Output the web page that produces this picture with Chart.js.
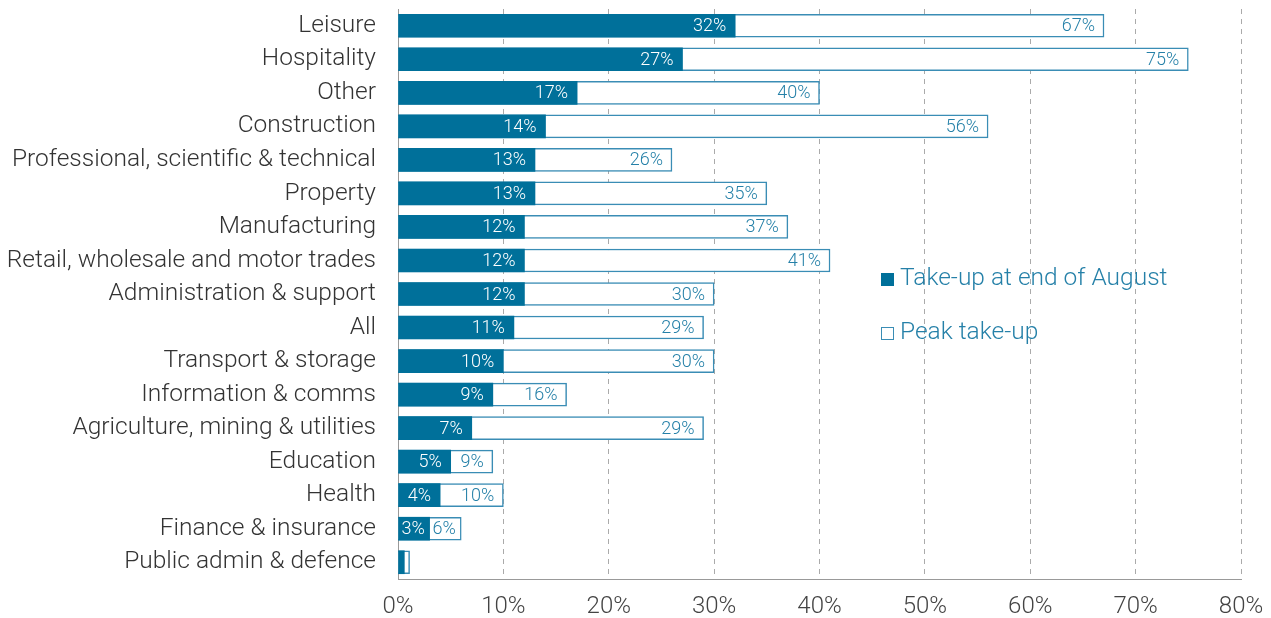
<!DOCTYPE html>
<html>
<head>
<meta charset="utf-8">
<script src="https://cdn.jsdelivr.net/npm/chart.js@4.4.0/dist/chart.umd.min.js"></script>
<style>
  body { margin: 0; background: #fff; }
  .wrap { position: relative; width: 1271px; height: 618px; }
  .key { position: absolute; left: 881px; font: 300 24.5px Roboto, sans-serif; color: #2580a8; white-space: nowrap; line-height: 28px; }
  .key i { display: inline-block; width: 13px; height: 13px; margin-right: 6px; box-sizing: border-box; vertical-align: -1px; }
  .key .solid { background: #00709a; }
  .key .hollow { border: 1.5px solid #3a8db5; background: #fff; }
</style>
</head>
<body>
<div class="wrap">
  <canvas id="takeUp" width="1271" height="618"></canvas>
  <div class="key" style="top:263px"><i class="solid"></i>Take-up at end of August</div>
  <div class="key" style="top:317px"><i class="hollow"></i>Peak take-up</div>
</div>
<script>
const sectors = [
  'Leisure', 'Hospitality', 'Other', 'Construction',
  'Professional, scientific & technical', 'Property', 'Manufacturing',
  'Retail, wholesale and motor trades', 'Administration & support', 'All',
  'Transport & storage', 'Information & comms', 'Agriculture, mining & utilities',
  'Education', 'Health', 'Finance & insurance', 'Public admin & defence'
];
const takeUpAugust = [32, 27, 17, 14, 13, 13, 12, 12, 12, 11, 10, 9, 7, 5, 4, 3, 0.6];
const peakTakeUp   = [67, 75, 40, 56, 26, 35, 37, 41, 30, 29, 30, 16, 29, 9, 10, 6, 1.1];
const xMax = 80;
const xStep = 10;

const FILL = '#00709a';
const EDGE = '#3a8db5';
const TEAL_TEXT = '#2580a8';

// value labels drawn inside the right end of each bar
const barLabels = {
  id: 'barLabels',
  afterDatasetsDraw(chart) {
    const ctx = chart.ctx;
    const filled = chart.getDatasetMeta(0).data;
    ctx.save();
    ctx.font = '300 18px Roboto, sans-serif';
    ctx.textAlign = 'right';
    ctx.textBaseline = 'middle';
    chart.data.datasets.forEach((ds, di) => {
      const meta = chart.getDatasetMeta(di);
      meta.data.forEach((bar, i) => {
        const v = ds.data[i];
        if (v < 2) return;
        const txt = Math.round(v) + '%';
        const w = ctx.measureText(txt).width;
        // keep short labels clear of the bar start (or the filled bar)
        const start = di === 0 ? bar.base : filled[i].x;
        const x = Math.max(bar.x - 9, start + w + 3);
        ctx.fillStyle = di === 0 ? '#fff' : TEAL_TEXT;
        ctx.fillText(txt, x, bar.y + 1);
      });
    });
    ctx.restore();
  }
};

new Chart(document.getElementById('takeUp'), {
  type: 'bar',
  data: {
    labels: sectors,
    datasets: [
      {
        label: 'Take-up at end of August',
        data: takeUpAugust,
        backgroundColor: FILL,
        borderWidth: 0,
        barThickness: 23,
        grouped: false,
        order: 1
      },
      {
        label: 'Peak take-up',
        data: peakTakeUp,
        backgroundColor: '#fff',
        borderColor: EDGE,
        borderWidth: 1.5,
        barThickness: 23,
        grouped: false,
        order: 2
      }
    ]
  },
  options: {
    indexAxis: 'y',
    responsive: false,
    animation: false,
    layout: { padding: { top: 9, right: 30, left: 0, bottom: 0 } },
    plugins: { legend: { display: false }, tooltip: { enabled: false } },
    scales: {
      x: {
        min: 0,
        max: xMax,
        afterFit: s => { s.height = 39; s.paddingLeft = 0; s.paddingRight = 0; },
        ticks: {
          stepSize: xStep,
          padding: 14,
          color: '#444',
          font: { family: 'Roboto', size: 24, weight: 300 },
          callback: v => v + '%'
        },
        grid: {
          drawTicks: false,
          color: c => (c.tick && c.tick.value === 0) ? 'rgba(0,0,0,0)' : '#aaa',
          lineWidth: 1
        },
        border: { display: true, color: '#999', width: 1, dash: [5, 5] }
      },
      y: {
        afterFit: s => { s.width = 398; s.paddingTop = 0; s.paddingBottom = 0; },
        ticks: {
          autoSkip: false,
          padding: 22,
          color: '#333',
          font: { family: 'Roboto', size: 24.5, weight: 300 }
        },
        grid: { display: false, drawTicks: false },
        border: { display: true, color: '#999', width: 1 }
      }
    }
  },
  plugins: [barLabels]
});
</script>
</body>
</html>
